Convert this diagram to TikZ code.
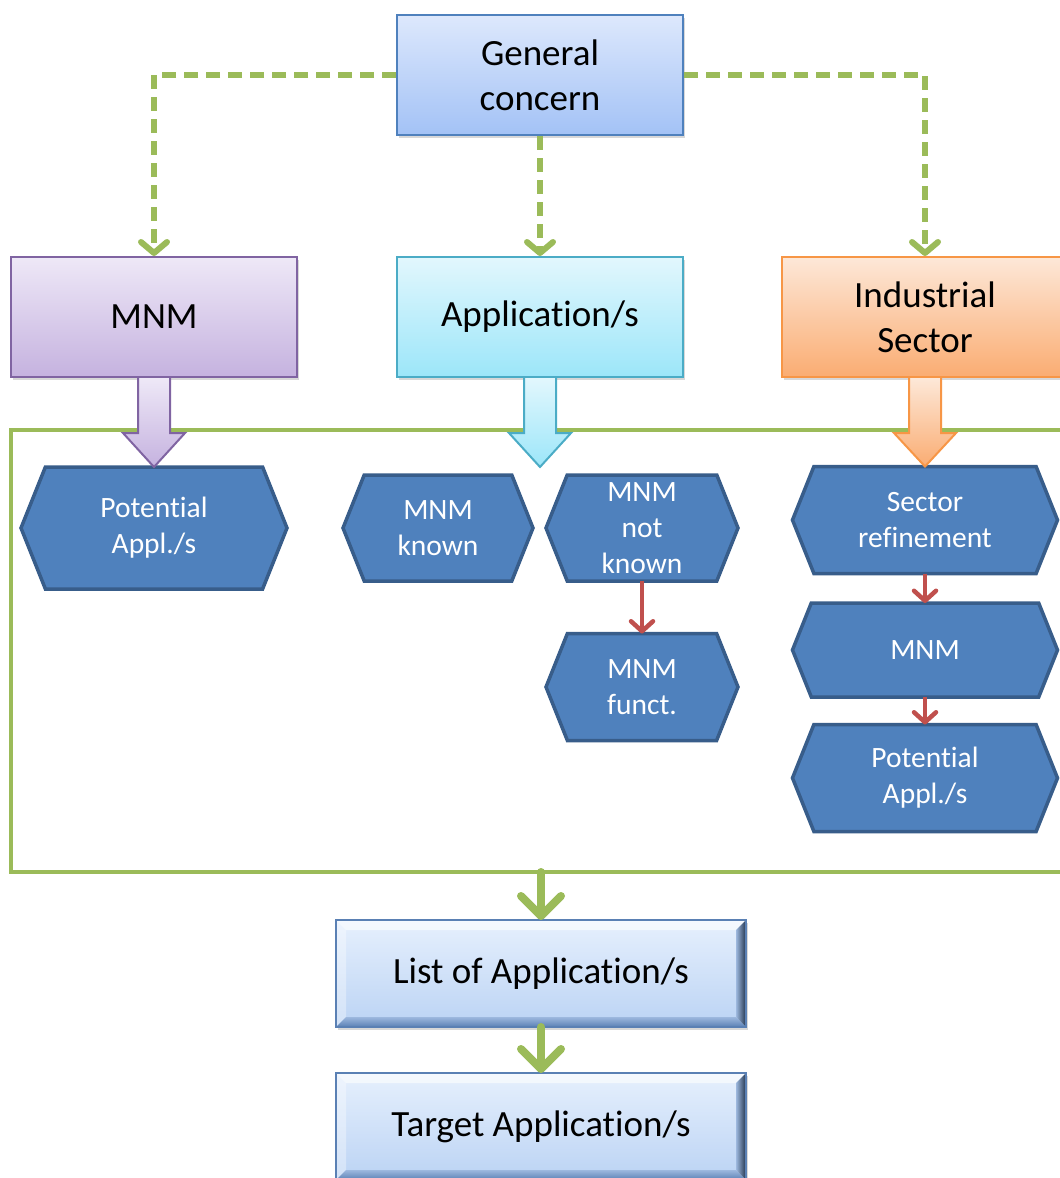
\documentclass[tikz,border=0pt]{standalone}
\usepackage{fontspec}
\setmainfont{Carlito}[Ligatures=NoCommon]
\usetikzlibrary{arrows.meta,calc,shadows}

\definecolor{grn}{HTML}{9BBB59}
\definecolor{redA}{HTML}{C0504D}
\definecolor{hexfill}{HTML}{4F81BD}
\definecolor{hexedge}{HTML}{385D8A}
\definecolor{blueedge}{HTML}{4F81BD}
\definecolor{blueT}{HTML}{DDE8FC}
\definecolor{blueB}{HTML}{A3C2F6}
\definecolor{purpEdge}{HTML}{8064A2}
\definecolor{purpT}{HTML}{EEE8F7}
\definecolor{purpB}{HTML}{C5B2DF}
\definecolor{cyanEdge}{HTML}{4BACC6}
\definecolor{cyanT}{HTML}{E2F7FD}
\definecolor{cyanB}{HTML}{9CE6F9}
\definecolor{orgEdge}{HTML}{F79646}
\definecolor{orgT}{HTML}{FDE8D8}
\definecolor{orgB}{HTML}{FAAC72}
\definecolor{faceT}{HTML}{E6F0FD}
\definecolor{faceB}{HTML}{BBD3F4}
\definecolor{bevOut}{HTML}{5A80B4}
\definecolor{bevDark}{HTML}{22344E}
\definecolor{bevMid}{HTML}{9DB8DE}

\tikzset{
  topbox/.style={minimum width=286pt, minimum height=120pt, line width=2pt,
    inner sep=0pt, align=center, font=\fontsize{37}{45}\selectfont,
    drop shadow={opacity=0.3, shadow xshift=2pt, shadow yshift=-3pt}},
  bluebox/.style={topbox, draw=blueedge, top color=blueT, bottom color=blueB},
  purpbox/.style={topbox, draw=purpEdge, top color=purpT, bottom color=purpB},
  cyanbox/.style={topbox, draw=cyanEdge, top color=cyanT, bottom color=cyanB},
  orgbox/.style={topbox, draw=orgEdge, top color=orgT, bottom color=orgB},
  hexshape/.style={fill=hexfill, draw=hexedge, line width=3.5pt, line join=miter},
  hextext/.style={text=white, align=center, font=\fontsize{29.5}{36}\selectfont,
    inner sep=0pt, outer sep=0pt},
  beveltext/.style={align=center, font=\fontsize{37}{45}\selectfont,
    inner sep=0pt, outer sep=0pt},
  dashlink/.style={draw=grn, line width=6pt, dash pattern=on 14pt off 8pt,
    -{Straight Barb[length=11pt,width=26pt,round]}},
  greenlink/.style={draw=grn, line width=8pt, line cap=round,
    -{Straight Barb[length=20pt,width=40pt,round]}},
  redlink/.style={draw=redA, line width=4.5pt,
    -{Straight Barb[length=10pt,width=22pt,round]}},
  framebox/.style={draw=grn, line width=4pt, inner sep=0pt, outer sep=0pt},
  blockarrow/.style={line width=2pt, line join=miter},
}

% hexagon with pointed left and right ends; node named #1 carries the text
\newcommand{\mkhex}[6]{%
  \filldraw[hexshape] ({#2-#4/2},#3) -- ({#2-#4/2+0.2*#5},{#3-#5/2})
    -- ({#2+#4/2-0.2*#5},{#3-#5/2}) -- ({#2+#4/2},#3)
    -- ({#2+#4/2-0.2*#5},{#3+#5/2}) -- ({#2-#4/2+0.2*#5},{#3+#5/2}) -- cycle;
  \node[hextext, minimum width=#4pt, minimum height=#5pt] (#1) at (#2,#3) {#6};
}

% bevelled button box; node named #1 carries the text
\newcommand{\mkbevel}[6]{%
  \begin{scope}[shift={(#2,#3)}]
    \path[drop shadow={opacity=0.3, shadow xshift=2pt, shadow yshift=-3pt},
      top color=faceT, bottom color=faceB] ({-#4/2},{-#5/2}) rectangle ({#4/2},{#5/2});
    % top bevel
    \fill[white, opacity=0.6] ({-#4/2},{-#5/2}) -- ({#4/2},{-#5/2})
      -- ({#4/2-10},{-#5/2+10}) -- ({-#4/2+10},{-#5/2+10}) -- cycle;
    % left bevel
    \fill[white, opacity=0.35] ({-#4/2},{-#5/2}) -- ({-#4/2+10},{-#5/2+10})
      -- ({-#4/2+10},{#5/2-10}) -- ({-#4/2},{#5/2}) -- cycle;
    % right bevel
    \shade[left color=bevMid, right color=bevDark] ({#4/2},{-#5/2}) -- ({#4/2},{#5/2})
      -- ({#4/2-10},{#5/2-10}) -- ({#4/2-10},{-#5/2+10}) -- cycle;
    % bottom bevel
    \shade[top color=bevMid, bottom color=bevOut] ({-#4/2},{#5/2}) -- ({#4/2},{#5/2})
      -- ({#4/2-10},{#5/2-10}) -- ({-#4/2+10},{#5/2-10}) -- cycle;
    \draw[bevOut, line width=1.5pt] ({-#4/2},{-#5/2}) rectangle ({#4/2},{#5/2});
  \end{scope}
  \node[beveltext, minimum width=#4pt, minimum height=#5pt] (#1) at (#2,#3) {#6};
}

\begin{document}
\begin{tikzpicture}[x=1pt, y=-1pt]
  \useasboundingbox (0,0) rectangle (1060,1178);
  \fill[white] (0,0) rectangle (1060,1178);
  \clip (0,0) rectangle (1060,1178);

  % outer frame around the analysis paths
  \node[framebox, minimum width=1069pt, minimum height=442pt] (frame) at (545.5,651) {};

  % top level boxes
  \node[bluebox] (gen) at (540,75) {General\\concern};
  \node[purpbox] (mnm) at (154,317) {MNM};
  \node[cyanbox] (app) at (540,317) {Application/s};
  \node[orgbox]  (ind) at (925,317) {Industrial\\Sector};

  % hexagon steps
  \mkhex{potA}{154}{528}{266}{122}{Potential\\Appl./s}
  \mkhex{known}{438}{528}{190}{106}{MNM\\known}
  \mkhex{notknown}{642}{528}{192}{106}{MNM\\not\\known}
  \mkhex{funct}{642}{687}{192}{107}{MNM\\funct.}
  \mkhex{sector}{925}{520}{265}{107}{Sector\\refinement}
  \mkhex{mnmB}{925}{650}{265}{94}{MNM}
  \mkhex{potB}{925}{778}{265}{107}{Potential\\Appl./s}
  \coordinate (appTip) at (540,467);

  % block arrows from the top boxes into the frame
  \filldraw[blockarrow, draw=purpEdge, top color=purpT, bottom color=purpB]
    ($(mnm.south)+(-16,0)$) -- ($(mnm.south)+(-16,55)$) -- ($(mnm.south)+(-31,55)$)
    -- (potA.north) -- ($(mnm.south)+(31,55)$) -- ($(mnm.south)+(16,55)$)
    -- ($(mnm.south)+(16,0)$);
  \filldraw[blockarrow, draw=cyanEdge, top color=cyanT, bottom color=cyanB]
    ($(app.south)+(-16,0)$) -- ($(app.south)+(-16,55)$) -- ($(app.south)+(-31,55)$)
    -- (appTip) -- ($(app.south)+(31,55)$) -- ($(app.south)+(16,55)$)
    -- ($(app.south)+(16,0)$);
  \filldraw[blockarrow, draw=orgEdge, top color=orgT, bottom color=orgB]
    ($(ind.south)+(-16,0)$) -- ($(ind.south)+(-16,55)$) -- ($(ind.south)+(-31,55)$)
    -- (sector.north) -- ($(ind.south)+(31,55)$) -- ($(ind.south)+(16,55)$)
    -- ($(ind.south)+(16,0)$);

  % dashed links from the general concern
  \draw[dashlink] (gen.west) -| (mnm.north);
  \draw[dashlink] (gen.south) -- (app.north);
  \draw[dashlink] (gen.east) -| (ind.north);

  % red step arrows
  \draw[redlink] (notknown.south) -- (funct.north);
  \draw[redlink] (sector.south) -- (mnmB.north);
  \draw[redlink] (mnmB.south) -- (potB.north);

  % result boxes
  \mkbevel{lst}{541}{973.5}{410}{107}{List of Application/s}
  \mkbevel{tgt}{541}{1126.5}{410}{107}{Target Application/s}

  \draw[greenlink] (frame.south -| lst.north) -- (lst.north);
  \draw[greenlink] (lst.south) -- (tgt.north);
\end{tikzpicture}
\end{document}
